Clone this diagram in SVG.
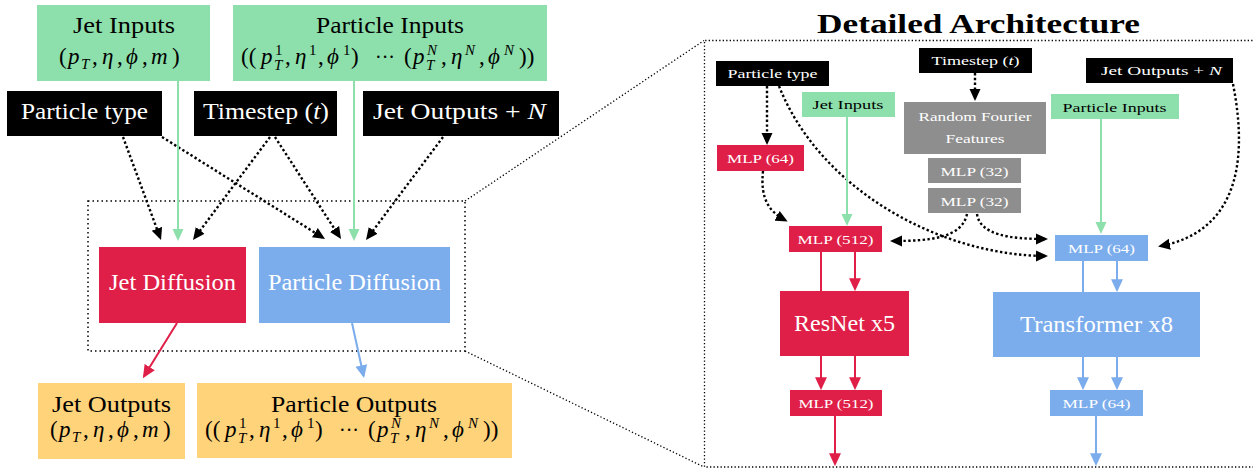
<svg xmlns="http://www.w3.org/2000/svg" width="1253" height="468" viewBox="0 0 1253 468">
<style>
text{font-family:"Liberation Serif","DejaVu Serif",serif;}
.L{font-size:23px}
.S{font-size:15px}
.D{font-size:20px}
.sm{font-size:13.5px}
.it{font-style:italic}
.c{text-anchor:middle}
.w{fill:#fff}
.k{fill:#000}
.gr{fill:#8ddfab}
.rd{fill:#e01f48}
.bl{fill:#7bacec}
.or{fill:#fed37a}
.gy{fill:#8e8e8e}
.bk{fill:#000}
.dot{fill:none;stroke:#000;stroke-width:2.4;stroke-dasharray:2.4 2.4}
.frame{fill:none;stroke:#000;stroke-width:1.5;stroke-dasharray:1.5 3}
.frame2{fill:none;stroke:#000;stroke-width:1.3;stroke-dasharray:1.3 2.2}
.lg{fill:none;stroke:#8ddfab;stroke-width:2}
.lr{fill:none;stroke:#e01f48;stroke-width:2}
.lb{fill:none;stroke:#7bacec;stroke-width:2}
</style>
<defs>
<marker id="ak" viewBox="0 0 12 12" refX="9" refY="6" markerWidth="12" markerHeight="12" markerUnits="userSpaceOnUse" orient="auto"><path d="M0,0.5 L12,6 L0,11.5 z" fill="#000"/></marker>
<marker id="ag" viewBox="0 0 12 12" refX="10" refY="6" markerWidth="12" markerHeight="12" markerUnits="userSpaceOnUse" orient="auto"><path d="M0,0.5 L12,6 L0,11.5 z" fill="#8ddfab"/></marker>
<marker id="ar" viewBox="0 0 12 12" refX="10" refY="6" markerWidth="13" markerHeight="13" markerUnits="userSpaceOnUse" orient="auto"><path d="M0,0.5 L12,6 L0,11.5 z" fill="#e01f48"/></marker>
<marker id="ab" viewBox="0 0 12 12" refX="10" refY="6" markerWidth="13" markerHeight="13" markerUnits="userSpaceOnUse" orient="auto"><path d="M0,0.5 L12,6 L0,11.5 z" fill="#7bacec"/></marker>
</defs>

<!-- frames -->
<g id="frames">
<rect class="frame" x="88" y="201" width="377" height="150"/>
<path class="frame2" d="M1256,40.5 H704.5 V467 H1256"/>
<path class="frame2" d="M465,201 L704,40.5 M465,351 L704,467"/>
</g>

<!-- left overview nodes -->
<g id="jet-inputs">
<rect class="gr" x="37" y="5" width="173" height="76"/>
<text class="L c k" x="124" y="33" textLength="102" lengthAdjust="spacingAndGlyphs">Jet Inputs</text>
<text class="L k" y="64"><tspan x="59">(</tspan><tspan x="68" class="it">p</tspan><tspan x="81" dy="5" class="S it">T</tspan><tspan x="92" dy="-5">,</tspan><tspan x="102" class="it">η</tspan><tspan x="117">,</tspan><tspan x="126" class="it">ϕ</tspan><tspan x="142">,</tspan><tspan x="151" class="it">m</tspan><tspan x="172">)</tspan></text>
</g>
<g id="particle-inputs">
<rect class="gr" x="233" y="5" width="314" height="76"/>
<text class="L c k" x="390" y="33" textLength="148" lengthAdjust="spacingAndGlyphs">Particle Inputs</text>
<text class="L k" y="64"><tspan x="241">((</tspan><tspan x="261" class="it">p</tspan><tspan x="275" dy="-9" class="S">1</tspan><tspan x="274" dy="15" class="S it">T</tspan><tspan x="285" dy="-6">,</tspan><tspan x="295" class="it">η</tspan><tspan x="309" dy="-9" class="S">1</tspan><tspan x="318" dy="9">,</tspan><tspan x="327" class="it">ϕ</tspan><tspan x="343" dy="-9" class="S">1</tspan><tspan x="351" dy="9">)</tspan><tspan x="375" class="D">···</tspan><tspan x="404">(</tspan><tspan x="413" class="it">p</tspan><tspan x="427" dy="-9" class="S it">N</tspan><tspan x="426" dy="15" class="S it">T</tspan><tspan x="441" dy="-6">,</tspan><tspan x="451" class="it">η</tspan><tspan x="465" dy="-9" class="S it">N</tspan><tspan x="479" dy="9">,</tspan><tspan x="488" class="it">ϕ</tspan><tspan x="504" dy="-9" class="S it">N</tspan><tspan x="519" dy="9">))</tspan></text>
</g>
<g id="particle-type">
<rect class="bk" x="7" y="91" width="155" height="45"/>
<text class="L c w" x="84.5" y="119" textLength="127" lengthAdjust="spacingAndGlyphs">Particle type</text>
</g>
<g id="timestep">
<rect class="bk" x="194" y="91" width="143" height="45"/>
<text class="L c w" x="266" y="119" textLength="126" lengthAdjust="spacingAndGlyphs">Timestep (<tspan class="it">t</tspan>)</text>
</g>
<g id="jet-outputs-n">
<rect class="bk" x="363" y="91" width="196" height="45"/>
<text class="L c w" x="459.5" y="119" textLength="173" lengthAdjust="spacingAndGlyphs">Jet Outputs + <tspan class="it">N</tspan></text>
</g>
<g id="jet-diffusion">
<rect class="rd" x="99" y="247" width="147" height="76"/>
<text class="L c w" x="172.5" y="290" textLength="127" lengthAdjust="spacingAndGlyphs">Jet Diffusion</text>
</g>
<g id="particle-diffusion">
<rect class="bl" x="259" y="247" width="191" height="76"/>
<text class="L c w" x="354.5" y="290" textLength="173" lengthAdjust="spacingAndGlyphs">Particle Diffusion</text>
</g>
<g id="jet-outputs">
<rect class="or" x="38" y="383" width="147" height="76"/>
<text class="L c k" x="111.5" y="412" textLength="119" lengthAdjust="spacingAndGlyphs">Jet Outputs</text>
<text class="L k" y="437"><tspan x="50">(</tspan><tspan x="59" class="it">p</tspan><tspan x="72" dy="5" class="S it">T</tspan><tspan x="83" dy="-5">,</tspan><tspan x="93" class="it">η</tspan><tspan x="108">,</tspan><tspan x="117" class="it">ϕ</tspan><tspan x="133">,</tspan><tspan x="142" class="it">m</tspan><tspan x="163">)</tspan></text>
</g>
<g id="particle-outputs">
<rect class="or" x="197" y="383" width="315" height="75"/>
<text class="L c k" x="354" y="412" textLength="166" lengthAdjust="spacingAndGlyphs">Particle Outputs</text>
<text class="L k" y="437"><tspan x="205">((</tspan><tspan x="225" class="it">p</tspan><tspan x="239" dy="-9" class="S">1</tspan><tspan x="238" dy="15" class="S it">T</tspan><tspan x="249" dy="-6">,</tspan><tspan x="259" class="it">η</tspan><tspan x="273" dy="-9" class="S">1</tspan><tspan x="282" dy="9">,</tspan><tspan x="291" class="it">ϕ</tspan><tspan x="307" dy="-9" class="S">1</tspan><tspan x="315" dy="9">)</tspan><tspan x="339" class="D">···</tspan><tspan x="368">(</tspan><tspan x="377" class="it">p</tspan><tspan x="391" dy="-9" class="S it">N</tspan><tspan x="390" dy="15" class="S it">T</tspan><tspan x="405" dy="-6">,</tspan><tspan x="415" class="it">η</tspan><tspan x="429" dy="-9" class="S it">N</tspan><tspan x="443" dy="9">,</tspan><tspan x="452" class="it">ϕ</tspan><tspan x="468" dy="-9" class="S it">N</tspan><tspan x="483" dy="9">))</tspan></text>
</g>

<!-- detailed architecture -->
<g id="title">
<text x="978.5" y="33" class="c k" font-size="28" font-weight="bold" textLength="323" lengthAdjust="spacingAndGlyphs">Detailed Architecture</text>
</g>
<g id="d-particle-type">
<rect class="bk" x="716" y="61" width="113" height="25"/>
<text class="sm c w" x="772.5" y="78" textLength="90" lengthAdjust="spacingAndGlyphs">Particle type</text>
</g>
<g id="d-timestep">
<rect class="bk" x="919" y="48" width="113" height="25"/>
<text class="sm c w" x="975.5" y="65" textLength="88" lengthAdjust="spacingAndGlyphs">Timestep (<tspan class="it">t</tspan>)</text>
</g>
<g id="d-jet-outputs-n">
<rect class="bk" x="1086" y="58" width="147" height="25"/>
<text class="sm c w" x="1161.5" y="75" textLength="121" lengthAdjust="spacingAndGlyphs">Jet Outputs + <tspan class="it">N</tspan></text>
</g>
<g id="d-jet-inputs">
<rect class="gr" x="802" y="92" width="93" height="25"/>
<text class="sm c k" x="848" y="109" textLength="71" lengthAdjust="spacingAndGlyphs">Jet Inputs</text>
</g>
<g id="d-rff">
<rect class="gy" x="904" y="102" width="142" height="52"/>
<text class="sm c w" x="975" y="121" textLength="113" lengthAdjust="spacingAndGlyphs">Random Fourier</text>
<text class="sm c w" x="975" y="143" textLength="59" lengthAdjust="spacingAndGlyphs">Features</text>
</g>
<g id="d-particle-inputs">
<rect class="gr" x="1051" y="94" width="128" height="25"/>
<text class="sm c k" x="1114.5" y="112" textLength="104" lengthAdjust="spacingAndGlyphs">Particle Inputs</text>
</g>
<g id="d-mlp64-red">
<rect class="rd" x="717" y="145" width="87" height="26"/>
<text class="sm c w" x="760.5" y="163" textLength="67" lengthAdjust="spacingAndGlyphs">MLP (64)</text>
</g>
<g id="d-mlp32-a">
<rect class="gy" x="928" y="158" width="93" height="25"/>
<text class="sm c w" x="974.5" y="176" textLength="68" lengthAdjust="spacingAndGlyphs">MLP (32)</text>
</g>
<g id="d-mlp32-b">
<rect class="gy" x="928" y="188" width="93" height="25"/>
<text class="sm c w" x="974.5" y="206" textLength="68" lengthAdjust="spacingAndGlyphs">MLP (32)</text>
</g>
<g id="d-mlp512-top">
<rect class="rd" x="789" y="226" width="93" height="26"/>
<text class="sm c w" x="835.5" y="244" textLength="76" lengthAdjust="spacingAndGlyphs">MLP (512)</text>
</g>
<g id="d-mlp64-blue-top">
<rect class="bl" x="1055" y="235" width="93" height="26"/>
<text class="sm c w" x="1101.5" y="253" textLength="67" lengthAdjust="spacingAndGlyphs">MLP (64)</text>
</g>
<g id="d-resnet">
<rect class="rd" x="780" y="291" width="129" height="65"/>
<text class="L c w" x="844.5" y="331" textLength="101" lengthAdjust="spacingAndGlyphs">ResNet x5</text>
</g>
<g id="d-transformer">
<rect class="bl" x="993" y="292" width="207" height="65"/>
<text class="L c w" x="1096.5" y="332" textLength="153" lengthAdjust="spacingAndGlyphs">Transformer x8</text>
</g>
<g id="d-mlp512-bottom">
<rect class="rd" x="790" y="390" width="92" height="26"/>
<text class="sm c w" x="836" y="408" textLength="75" lengthAdjust="spacingAndGlyphs">MLP (512)</text>
</g>
<g id="d-mlp64-bottom">
<rect class="bl" x="1050" y="390" width="93" height="26"/>
<text class="sm c w" x="1096.5" y="408" textLength="68" lengthAdjust="spacingAndGlyphs">MLP (64)</text>
</g>

<!-- connectors -->
<g id="connectors">
<path class="dot" marker-end="url(#ak)" d="M123,137 L160,237.2"/>
<path class="dot" marker-end="url(#ak)" d="M162,137 L322.5,237.4"/>
<path class="dot" marker-end="url(#ak)" d="M270,137 L194.8,237.6"/>
<path class="dot" marker-end="url(#ak)" d="M275,137 L339.4,236.5"/>
<path class="dot" marker-end="url(#ak)" d="M443,137 L367.8,237.6"/>
<path class="lg" marker-end="url(#ag)" d="M178,81 V239"/>
<path class="lg" marker-end="url(#ag)" d="M354,81 V239"/>
<path class="lr" marker-end="url(#ar)" d="M177,323 L144,376.3"/>
<path class="lb" marker-end="url(#ab)" d="M352,323 L363.6,376"/>

<path class="dot" marker-end="url(#ak)" d="M767,86 V142"/>
<path class="dot" marker-end="url(#ak)" d="M779,86 C820,190 940,255 1045,256"/>
<path class="dot" marker-end="url(#ak)" d="M967,214 C962,238 930,241 893,241"/>
<path class="dot" marker-end="url(#ak)" d="M977,214 C980,235 1010,239 1045,239"/>
<path class="dot" marker-end="url(#ak)" d="M763,171 C760,200 770,212 785,220"/>
<path class="dot" marker-end="url(#ak)" d="M1233,84 C1250,170 1232,232 1161,246"/>
<path class="dot" marker-end="url(#ak)" d="M975,73 V98"/>

<path class="lg" marker-end="url(#ag)" d="M847,117 V224"/>
<path class="lg" marker-end="url(#ag)" d="M1101,119 V232"/>

<path class="lr" d="M821,252 V291"/>
<path class="lr" marker-end="url(#ar)" d="M855,252 V289"/>
<path class="lr" marker-end="url(#ar)" d="M821,356 V388"/>
<path class="lr" marker-end="url(#ar)" d="M855,356 V388"/>
<path class="lr" marker-end="url(#ar)" d="M835,416 V464"/>

<path class="lb" d="M1083,261 V292"/>
<path class="lb" marker-end="url(#ab)" d="M1117,261 V290"/>
<path class="lb" marker-end="url(#ab)" d="M1083,357 V388"/>
<path class="lb" marker-end="url(#ab)" d="M1117,357 V388"/>
<path class="lb" marker-end="url(#ab)" d="M1096,416 V464"/>
</g>
</svg>
